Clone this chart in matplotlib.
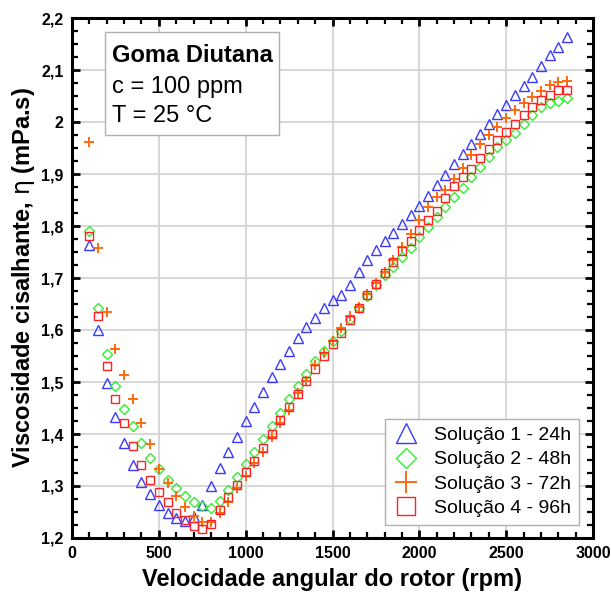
import matplotlib
matplotlib.use("Agg")
import matplotlib.pyplot as plt
from matplotlib.ticker import MultipleLocator, FixedLocator
from matplotlib.patches import Rectangle

plt.rcParams['font.family'] = ['Liberation Sans', 'DejaVu Sans']

rpm = [100, 150, 200, 250, 300, 350, 400, 450, 500, 550, 600, 650, 700, 750,
       800, 850, 900, 950, 1000, 1050, 1100, 1150, 1200, 1250, 1300, 1350,
       1400, 1450, 1500, 1550, 1600, 1650, 1700, 1750, 1800, 1850, 1900, 1950,
       2000, 2050, 2100, 2150, 2200, 2250, 2300, 2350, 2400, 2450, 2500, 2550,
       2600, 2650, 2700, 2750, 2800, 2850]

sol1_24h = [1.763, 1.600, 1.499, 1.433, 1.382, 1.340, 1.308, 1.284, 1.264, 1.249,
            1.239, 1.233, 1.240, 1.264, 1.300, 1.334, 1.365, 1.394, 1.425, 1.452,
            1.481, 1.509, 1.535, 1.560, 1.585, 1.606, 1.623, 1.642, 1.658, 1.667,
            1.687, 1.711, 1.735, 1.754, 1.771, 1.786, 1.804, 1.821, 1.839, 1.858,
            1.879, 1.899, 1.920, 1.938, 1.957, 1.977, 1.996, 2.015, 2.033, 2.051,
            2.069, 2.087, 2.107, 2.128, 2.145, 2.164]

sol2_48h = [1.790, 1.643, 1.553, 1.493, 1.449, 1.415, 1.383, 1.354, 1.332, 1.311,
            1.296, 1.281, 1.269, 1.262, 1.258, 1.271, 1.293, 1.318, 1.342, 1.366,
            1.391, 1.415, 1.441, 1.467, 1.492, 1.516, 1.540, 1.560, 1.579, 1.599,
            1.621, 1.643, 1.665, 1.686, 1.705, 1.722, 1.740, 1.758, 1.778, 1.799,
            1.817, 1.837, 1.856, 1.874, 1.894, 1.914, 1.933, 1.951, 1.965, 1.979,
            1.997, 2.013, 2.028, 2.037, 2.041, 2.047]

sol3_72h = [1.961, 1.758, 1.634, 1.563, 1.513, 1.467, 1.421, 1.380, 1.332, 1.305,
            1.281, 1.260, 1.242, 1.231, 1.230, 1.248, 1.270, 1.296, 1.320, 1.344,
            1.366, 1.394, 1.421, 1.446, 1.478, 1.502, 1.533, 1.555, 1.579, 1.603,
            1.626, 1.645, 1.669, 1.691, 1.712, 1.735, 1.760, 1.784, 1.811, 1.836,
            1.856, 1.870, 1.890, 1.911, 1.937, 1.958, 1.975, 1.991, 2.007, 2.023,
            2.037, 2.049, 2.060, 2.071, 2.076, 2.079]

sol4_96h = [1.781, 1.626, 1.531, 1.467, 1.421, 1.377, 1.340, 1.312, 1.288, 1.269,
            1.249, 1.235, 1.223, 1.217, 1.226, 1.254, 1.278, 1.302, 1.327, 1.348,
            1.374, 1.400, 1.427, 1.451, 1.477, 1.501, 1.525, 1.550, 1.573, 1.595,
            1.619, 1.643, 1.667, 1.688, 1.709, 1.730, 1.751, 1.772, 1.792, 1.812,
            1.829, 1.853, 1.876, 1.894, 1.909, 1.930, 1.949, 1.965, 1.980, 1.996,
            2.013, 2.029, 2.042, 2.052, 2.061, 2.062]

labels = ["Solução 1 - 24h", "Solução 2 - 48h", "Solução 3 - 72h", "Solução 4 - 96h"]
x_ticks = [0, 500, 1000, 1500, 2000, 2500, 3000]
x_tick_labels = ["0", "500", "1000", "1500", "2000", "2500", "3000"]
y_ticks = [1.2, 1.3, 1.4, 1.5, 1.6, 1.7, 1.8, 1.9, 2.0, 2.1, 2.2]
y_tick_labels = ["1,2", "1,3", "1,4", "1,5", "1,6", "1,7", "1,8", "1,9", "2", "2,1", "2,2"]

fig = plt.figure(figsize=(6.11, 5.92), dpi=100)
ax = fig.add_axes([72/611, 54/592, 521/611, 520/592])

styles = [
    dict(marker='^', color='#3a3aff', ms=6.8, mew=1.0),
    dict(marker='D', color='#33ee33', ms=4.6, mew=1.0),
    dict(marker='+', color='#ff6a10', ms=7.0, mew=1.4),
    dict(marker='s', color='#ff2222', ms=6.2, mew=1.0),
]
series = [sol1_24h, sol2_48h, sol3_72h, sol4_96h]
for yv, st, lab in zip(series, styles, labels):
    if st['marker'] == '+':
        ax.plot(rpm, yv, linestyle='none', marker='+', ms=st['ms'], mew=st['mew'],
                color=st['color'], label=lab, zorder=3)
    else:
        ax.plot(rpm, yv, linestyle='none', marker=st['marker'], ms=st['ms'],
                mew=st['mew'], mfc='none', mec=st['color'], label=lab, zorder=3)

ax.set_xlim(0, 3000)
ax.set_ylim(1.2, 2.2)
ax.xaxis.set_major_locator(FixedLocator(x_ticks))
ax.set_xticklabels(x_tick_labels)
ax.yaxis.set_major_locator(FixedLocator(y_ticks))
ax.set_yticklabels(y_tick_labels)
ax.xaxis.set_minor_locator(MultipleLocator(100))
ax.yaxis.set_minor_locator(MultipleLocator(0.025))

ax.grid(True, which='major', color='#d4d4d4', linewidth=1.3, zorder=0)
ax.set_axisbelow(True)

for sp in ax.spines.values():
    sp.set_linewidth(2.2)
ax.tick_params(which='major', direction='in', length=6, width=2,
               top=True, right=True, labelsize=11.5, pad=6)
ax.tick_params(which='minor', direction='in', length=4, width=1.6,
               top=True, right=True)
for lbl in ax.get_xticklabels() + ax.get_yticklabels():
    lbl.set_fontweight('bold')

ax.set_xlabel("Velocidade angular do rotor (rpm)", fontsize=17,
              fontweight='bold', labelpad=5)
ax.set_ylabel(r"Viscosidade cisalhante, $\mathrm{\eta}$ (mPa.s)", fontsize=17,
              fontweight='bold', labelpad=3)

leg = ax.legend(loc='lower right', fontsize=14, markerscale=2.2,
                frameon=True, fancybox=False, edgecolor='#b0b0b0',
                borderpad=0.4, labelspacing=0.35, handlelength=1.36,
                handletextpad=0.76, borderaxespad=0,
                bbox_to_anchor=(0.973, 0.025))
leg.get_frame().set_linewidth(1.0)
leg.get_frame().set_alpha(1.0)

ax.text(0.0768, 0.915, "Goma Diutana", transform=ax.transAxes, fontsize=17,
        fontweight='bold', va='baseline', ha='left', zorder=5)
ax.text(0.0768, 0.856, "c = 100 ppm", transform=ax.transAxes,
        fontsize=17, va='baseline', ha='left', zorder=5)
ax.text(0.0768, 0.800, "T = 25 °C", transform=ax.transAxes,
        fontsize=17, va='baseline', ha='left', zorder=5)
ax.add_patch(Rectangle((0.0633, 0.775), 0.334, 0.198, transform=ax.transAxes,
                       facecolor='white', edgecolor='#b0b0b0', linewidth=1.0,
                       zorder=4))

fig.savefig("out.png", dpi=100)
